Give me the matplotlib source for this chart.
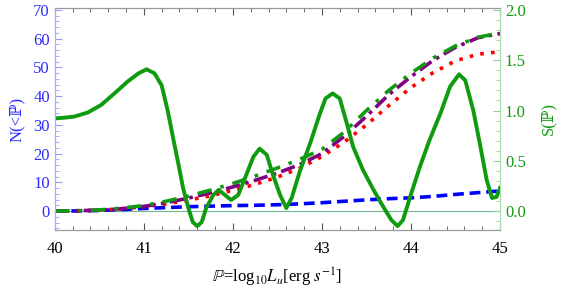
import numpy as np
import matplotlib.pyplot as plt
from matplotlib.ticker import MultipleLocator

plt.rcParams['font.family'] = ['Liberation Serif', 'DejaVu Serif']
plt.rcParams['mathtext.fontset'] = 'stix'

# cumulative counts N(<P), left axis
P = [40, 40.25, 40.5, 40.75, 41, 41.25, 41.5, 41.75, 42, 42.25, 42.5,
     42.75, 43, 43.25, 43.5, 43.75, 44, 44.25, 44.5, 44.75, 45]
N_blue = [0, 0.05, 0.2, 0.5, 0.9, 1.2, 1.5, 1.7, 1.9, 2.0, 2.2,
          2.5, 2.9, 3.4, 3.9, 4.3, 4.6, 5.1, 5.8, 6.4, 7.0]
N_red = [0, 0.1, 0.3, 0.8, 1.5, 2.5, 3.8, 5.3, 7.2, 9.3, 11.8,
         14.9, 19.0, 24.0, 30.0, 36.7, 43.0, 48.2, 52.3, 54.6, 55.5]
N_purple = [0, 0.1, 0.3, 0.8, 1.6, 2.9, 4.5, 6.3, 8.4, 10.7, 13.2,
            16.2, 20.0, 26.0, 33.0, 40.5, 46.8, 52.5, 57.0, 60.3, 61.8]
N_green = [0, 0.1, 0.4, 1.0, 1.9, 3.4, 5.2, 7.3, 9.6, 12.2, 15.0,
           18.0, 21.5, 27.5, 35.0, 42.0, 48.0, 53.3, 57.5, 60.5, 62.0]

# S(P), right axis
P_s = [40.0, 40.1, 40.22, 40.37, 40.52, 40.67, 40.82, 40.94, 41.03, 41.12,
       41.2, 41.27, 41.33, 41.39, 41.44, 41.5, 41.55, 41.6, 41.65, 41.7,
       41.78, 41.84, 41.91, 41.98, 42.06, 42.15, 42.23, 42.3, 42.38, 42.45,
       42.53, 42.6, 42.66, 42.75, 42.87, 42.97, 43.04, 43.12, 43.2, 43.28,
       43.35, 43.46, 43.58, 43.69, 43.78, 43.85, 43.91, 43.99, 44.1, 44.21,
       44.33, 44.44, 44.54, 44.61, 44.7, 44.78, 44.85, 44.91, 44.96, 45.0]
S = [0.922, 0.928, 0.94, 0.98, 1.055, 1.17, 1.29, 1.37, 1.41, 1.37,
     1.25, 0.99, 0.72, 0.46, 0.23, 0.03, -0.11, -0.15, -0.11, 0.03,
     0.16, 0.21, 0.16, 0.11, 0.16, 0.36, 0.54, 0.62, 0.56, 0.36,
     0.16, 0.03, 0.13, 0.39, 0.68, 0.95, 1.12, 1.17, 1.12, 0.87,
     0.64, 0.41, 0.21, 0.04, -0.09, -0.15, -0.09, 0.14, 0.44, 0.71,
     0.97, 1.24, 1.36, 1.30, 1.00, 0.64, 0.31, 0.13, 0.14, 0.23]

blue = '#2b2bff'
green = '#109a10'

fig = plt.figure(figsize=(5.65, 2.96), dpi=100)
ax = fig.add_axes([0.097, 0.223, 0.788, 0.75])
ax2 = ax.twinx()

ax.axhline(0, color='#6fb89a', lw=0.8, zorder=1)
ax.plot(P, N_blue, color='#0000ff', lw=2.6, ls=(0, (3, 1.6)))
ax.plot(P, N_red, color='#ff0000', lw=2.6, ls=(0, (1, 2)))
ax.plot(P, N_purple, color='#800080', lw=2.6, ls=(0, (4, 1.5, 1, 1.5)))
ax.plot(P, N_green, color='#119911', lw=2.6, ls=(0, (4, 2.5, 1, 2.5)))
ax2.plot(P_s, S, color=green, lw=2.8, solid_joinstyle='round')

ax.set_xlim(40, 45)
ax.set_ylim(-6.6, 70.7)
ax2.set_ylim(-6.6 / 35, 70.7 / 35)

ax.xaxis.set_major_locator(MultipleLocator(1))
ax.xaxis.set_minor_locator(MultipleLocator(0.2))
ax.yaxis.set_major_locator(MultipleLocator(10))
ax.yaxis.set_minor_locator(MultipleLocator(2))
ax2.yaxis.set_major_locator(MultipleLocator(0.5))
ax2.yaxis.set_minor_locator(MultipleLocator(0.1))

ax.tick_params(axis='x', which='both', direction='in', top=True,
               color='#555555', labelsize=12, pad=8)
ax.tick_params(axis='x', which='major', length=5)
ax.tick_params(axis='x', which='minor', length=3)
ax.tick_params(axis='y', which='both', direction='in', color='#9999ff',
               labelcolor=blue, labelsize=12)
ax.tick_params(axis='y', which='major', length=5)
ax.tick_params(axis='y', which='minor', length=3)
ax2.tick_params(axis='y', which='both', direction='in', color='#99cc99',
                labelcolor=green, labelsize=12)
ax2.tick_params(axis='y', which='major', length=5)
ax2.tick_params(axis='y', which='minor', length=3)

for a in (ax, ax2):
    a.spines['top'].set_color('#999999')
    a.spines['bottom'].set_color('#999999')
    a.spines['left'].set_color('#aaaaff')
    a.spines['right'].set_color('#aaddaa')

ax.set_ylabel('N(<ℙ)', color=blue, fontsize=12, labelpad=6)
ax2.set_ylabel('S(ℙ)', color=green, fontsize=12, rotation=90, labelpad=10)
ax.set_xlabel(r'$\mathbb{P}$=log$_{10}$$L_u$[erg $s^{-1}$]', fontsize=12,
              labelpad=6)

fig.savefig('out.png', dpi=100)
